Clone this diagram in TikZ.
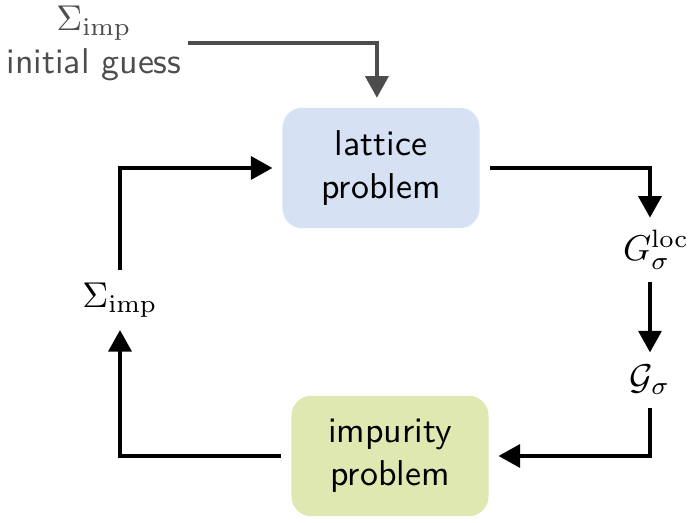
\documentclass[tikz,border=0pt]{standalone}
\usetikzlibrary{arrows.meta}

\definecolor{latblue}{RGB}{214,226,243}
\definecolor{impgreen}{RGB}{223,232,176}
\definecolor{guessgray}{RGB}{77,77,77}

\begin{document}
\begin{tikzpicture}[x=0.0098cm,y=-0.0098cm,
    box/.style={rounded corners=5.5pt,minimum width=1.93cm,minimum height=1.18cm,
      align=center,font=\sffamily,outer sep=2.8pt},
    arr/.style={line width=1pt,-{Triangle[length=6pt,width=6.4pt]}}]
    \useasboundingbox (0,0) rectangle (690,523);

    \node[box,fill=latblue] (lattice) at (381,168) {lattice\\problem};
    \node[box,fill=impgreen] (impurity) at (390,456) {impurity\\problem};

    \node[align=center,text=guessgray,font=\sffamily,inner sep=1.5pt] (guess) at (94,43)
    {$\Sigma_{\mathrm{imp}}$\\initial guess};
    \node (gloc) at (656,250) {$G_\sigma^{\mathrm{loc}}$};
    \node (gsig) at (650,380) {$\mathcal{G}_\sigma$};
    \node (sig) at (120,300) {$\Sigma_{\mathrm{imp}}$};

    \draw[arr,guessgray] (guess.east) -| ([xshift=-0.04cm]lattice.north);
    \draw[arr] (lattice.east) -| (gsig |- gloc.north);
    \draw[arr] (gsig |- gloc.south) -- (gsig);
    \draw[arr] (gsig) |- (impurity.east);
    \draw[arr] (impurity.west) -| (sig);
    \draw[arr] (sig) |- (lattice.west);
  \end{tikzpicture}
\end{document}
